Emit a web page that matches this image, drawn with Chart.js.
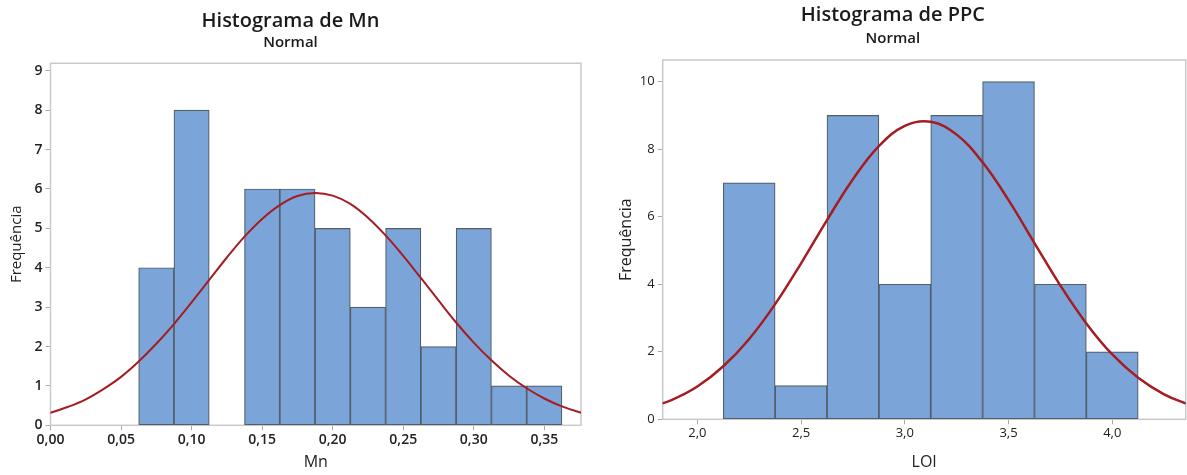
<!DOCTYPE html>
<html>
<head>
<meta charset="utf-8">
<script src="https://cdn.jsdelivr.net/npm/chart.js@4/dist/chart.umd.min.js"></script>
<style>
  html, body { margin: 0; padding: 0; background: #fff; }
  #wrap { position: relative; width: 1187px; height: 475px; }
  .box { position: absolute; top: 0; height: 475px; }
</style>
</head>
<body>
<div id="wrap">
  <div class="box" style="left:0;width:600px"><canvas id="mnChart"></canvas></div>
  <div class="box" style="left:600px;width:587px"><canvas id="ppcChart"></canvas></div>
</div>
<script>
// ── Data ──────────────────────────────────────────────────────────
const mnBins = [0.075, 0.1, 0.125, 0.15, 0.175, 0.2, 0.225, 0.25, 0.275, 0.3, 0.325, 0.35];
const mnCounts = [4, 8, 0, 6, 6, 5, 3, 5, 2, 5, 1, 1];
const mnCurveX = [-0.0125, 0, 0.0125, 0.025, 0.0375, 0.05, 0.0625, 0.075, 0.0875, 0.1, 0.1125, 0.125, 0.1375,
    0.15, 0.1625, 0.175, 0.1875, 0.2, 0.2125, 0.225, 0.2375, 0.25, 0.2625, 0.275, 0.2875, 0.3,
    0.3125, 0.325, 0.3375, 0.35, 0.3625, 0.375, 0.3875];
const mnCurveY = [0.22, 0.32, 0.47, 0.66, 0.92, 1.23, 1.62, 2.07, 2.57, 3.12, 3.69, 4.26, 4.79,
    5.24, 5.59, 5.82, 5.90, 5.83, 5.62, 5.27, 4.82, 4.30, 3.74, 3.17, 2.61, 2.10,
    1.65, 1.26, 0.94, 0.68, 0.48, 0.33, 0.22];

const ppcBins = [2.25, 2.5, 2.75, 3.0, 3.25, 3.5, 3.75, 4.0];
const ppcCounts = [7, 1, 9, 4, 9, 10, 4, 2];
const ppcCurveX = [1.75, 1.875, 2.0, 2.125, 2.25, 2.375, 2.5, 2.625, 2.75, 2.875, 3.0,
    3.125, 3.25, 3.375, 3.5, 3.625, 3.75, 3.875, 4.0, 4.125, 4.25, 4.375];
const ppcCurveY = [0.32, 0.57, 0.97, 1.57, 2.38, 3.41, 4.62, 5.90, 7.11, 8.09, 8.69,
    8.81, 8.43, 7.61, 6.49, 5.22, 3.96, 2.84, 1.92, 1.23, 0.74, 0.42];

// ── Shared styling ────────────────────────────────────────────────
const FONT = '"Open Sans", "Noto Sans", sans-serif';
const BAR_FILL = '#7ba5d9';
const BAR_EDGE = '#535e6b';
const CURVE = '#a51d22';

const frame = {
    id: 'frame',
    beforeDatasetsDraw(chart) {
        const { ctx, chartArea: a } = chart;
        ctx.save();
        ctx.strokeStyle = '#c9c9c9';
        ctx.lineWidth = 1.5;
        ctx.strokeRect(a.left, a.top, a.right - a.left, a.bottom - a.top);
        ctx.restore();
    }
};

const pairs = (xs, ys) => xs.map((x, i) => ({ x, y: ys[i] }));

function histogram(id, cfg) {
    new Chart(document.getElementById(id), {
        type: 'bar',
        data: {
            datasets: [{
                type: 'line',
                data: pairs(cfg.curveX, cfg.curveY),
                borderColor: CURVE,
                borderWidth: cfg.curveWidth,
                pointRadius: 0,
                tension: 0.4,
                order: 0,
            }, {
                data: pairs(cfg.bins, cfg.counts),
                backgroundColor: BAR_FILL,
                borderColor: BAR_EDGE,
                borderWidth: 1.2,
                borderSkipped: false,
                barPercentage: 1,
                categoryPercentage: 1,
                order: 1,
            }]
        },
        options: {
            responsive: true,
            maintainAspectRatio: false,
            animation: false,
            layout: { padding: { left: 0, right: cfg.padRight, top: 0, bottom: 0 } },
            plugins: {
                legend: { display: false },
                tooltip: { enabled: false },
                title: {
                    display: true, text: cfg.title, color: '#1a1a1a',
                    font: { family: FONT, size: 20, weight: '600' },
                    padding: { top: cfg.titleTop, bottom: 0 }
                },
                subtitle: {
                    display: true, text: 'Normal', color: '#1a1a1a',
                    font: { family: FONT, size: 15, weight: '600' },
                    padding: { top: cfg.subTop, bottom: cfg.subBottom }
                }
            },
            scales: {
                x: {
                    type: 'linear', offset: false,
                    min: cfg.xMin, max: cfg.xMax,
                    afterFit: (s) => { s.height = cfg.xAxisH; },
                    grid: { offset: false, drawOnChartArea: false, drawTicks: true, tickLength: 5, tickColor: '#aaa' },
                    border: { display: false },
                    ticks: {
                        stepSize: cfg.xStep, includeBounds: false, color: '#222', padding: 1,
                        maxRotation: 0, autoSkip: false,
                        font: { family: FONT, size: cfg.tickSize, weight: cfg.tickWeight },
                        callback: (v) => v.toFixed(cfg.xDec).replace('.', ',')
                    },
                    title: {
                        display: true, text: cfg.xTitle, color: '#222',
                        font: { family: FONT, size: 16 }, padding: { top: 0, bottom: 3 }
                    }
                },
                y: {
                    min: 0, max: cfg.yMax,
                    afterFit: (s) => { s.width = cfg.yAxisW; },
                    grid: { drawOnChartArea: false, drawTicks: true, tickLength: 5, tickColor: '#aaa' },
                    border: { display: false },
                    ticks: {
                        stepSize: cfg.yStep, includeBounds: false, color: '#222', padding: 3,
                        font: { family: FONT, size: cfg.tickSize, weight: cfg.tickWeight }
                    },
                    title: {
                        display: true, text: 'Frequência', color: '#222',
                        font: { family: FONT, size: cfg.yTitleSize }, padding: { top: cfg.yTitlePad, bottom: 0 }
                    }
                }
            }
        },
        plugins: [frame]
    });
}

// ── Mn ────────────────────────────────────────────────────────────
histogram('mnChart', {
    title: 'Histograma de Mn', xTitle: 'Mn',
    bins: mnBins, counts: mnCounts, curveX: mnCurveX, curveY: mnCurveY, curveWidth: 2,
    xMin: 0, xMax: 0.376, xStep: 0.05, xDec: 2,
    yMax: 9.19, yStep: 1,
    tickSize: 14, tickWeight: '600', yTitleSize: 15,
    padRight: 19, yAxisW: 50.5, xAxisH: 49.7, yTitlePad: 8,
    titleTop: 9.7, subTop: 0, subBottom: 11.6,
});

// ── PPC ───────────────────────────────────────────────────────────
histogram('ppcChart', {
    title: 'Histograma de PPC', xTitle: 'LOI',
    bins: ppcBins, counts: ppcCounts, curveX: ppcCurveX, curveY: ppcCurveY, curveWidth: 2.5,
    xMin: 1.833, xMax: 4.354, xStep: 0.5, xDec: 1,
    yMax: 10.64, yStep: 2,
    tickSize: 13, tickWeight: 'normal', yTitleSize: 16,
    padRight: 1.3, yAxisW: 62.7, xAxisH: 55.7, yTitlePad: 16.5,
    titleTop: 3, subTop: 3, subBottom: 12,
});
</script>
</body>
</html>
